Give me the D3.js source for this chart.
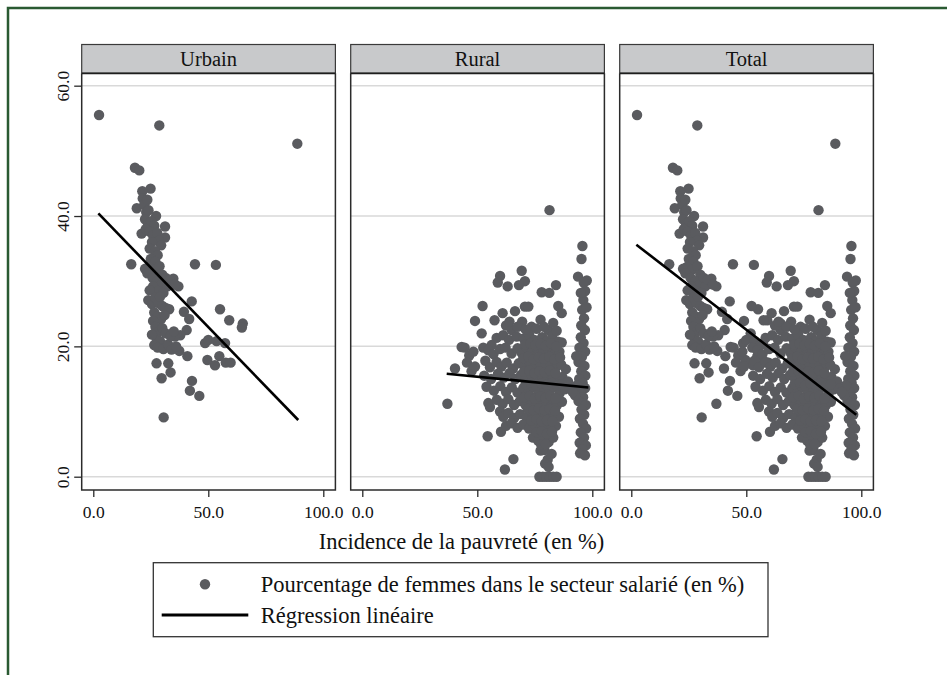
<!DOCTYPE html>
<html><head><meta charset="utf-8">
<script src="https://cdn.jsdelivr.net/npm/d3@7"></script>
<style>body{margin:0;background:#fff}</style>
</head><body>
<svg id="c" width="947" height="675"></svg>
<script>
// ---------------- DATA ----------------
const panels = ["Urbain", "Rural", "Total"];
const yTicks = [0, 20, 40, 60];
const xTicks = [0, 50, 100];
const xTitle = "Incidence de la pauvreté (en %)";
const legendLabels = ["Pourcentage de femmes dans le secteur salarié (en %)", "Régression linéaire"];

// Urban: [poverty incidence, % women in wage sector]
const urbainPoints = [
  [2.5,55.5],[28.7,53.9],[88.7,51.1],[18.1,47.4],[20.0,47.0],[24.9,44.2],[21.3,43.8],[21.5,42.7],
  [18.9,41.2],[27.3,40.0],[31.2,38.4],[21.0,37.3],[31.2,36.7],[16.5,32.6],[44.2,32.6],[53.3,32.5],
  [34.8,30.4],[37.0,29.2],[42.8,26.9],[55.1,25.7],[59.1,24.0],[65.0,23.5],[64.6,22.9],[39.4,25.3],
  [41.7,24.2],[40.6,22.5],[37.8,21.7],[35.5,21.5],[48.6,20.5],[50.0,21.0],[53.6,20.8],[57.3,20.5],
  [49.6,17.9],[52.9,17.1],[54.8,18.5],[57.6,17.5],[59.7,17.5],[40.9,18.5],[37.4,19.3],[27.5,17.4],
  [32.6,17.4],[33.6,16.0],[29.7,15.1],[42.9,14.7],[42.0,13.2],[46.1,12.4],[30.6,9.1],
  [22.2,41.8],[23.0,40.6],[22.5,39.5],[24.0,40.9],[23.5,42.5],
  [23.8,38.8],[25.2,39.2],[26.5,38.5],[22.8,38.0],[24.5,37.6],[26.0,37.0],[27.8,37.4],[28.5,36.2],[25.5,36.0],[29.5,35.5],
  [24.5,35.0],[26.8,34.6],[28.0,34.0],[25.0,33.4],[27.0,33.0],[24.2,32.2],[26.5,31.8],[28.8,32.3],[22.5,31.9],[30.0,31.0],
  [23.5,31.2],[25.8,30.5],[27.8,30.0],[29.5,29.4],[31.5,30.5],[32.2,29.2],[26.0,29.2],[28.2,28.5],[30.5,28.2],[24.5,28.6],
  [23.9,27.1],[25.5,26.5],[27.0,27.5],[28.5,26.6],[30.0,26.2],[31.5,25.9],[33.0,25.7],[26.5,25.2],[28.0,24.6],[29.5,24.2],[31.0,24.8],[26.0,23.9],
  [27.0,23.0],[28.5,22.3],[30.0,22.8],[31.5,22.0],[27.5,21.2],[29.0,20.8],[26.5,20.2],[28.0,19.8],[30.5,19.6],[32.5,20.3],
  [33.5,21.6],[35.0,22.3],[34.0,19.5],[36.0,20.0],[25.5,21.8],[33.3,30.2],[35.5,29.5],[29.0,27.6]
];

const ruralPoints = [
  [37.0,11.2],[40.3,16.6],[44.5,19.8],[46.5,18.6],[45.5,17.5],[47.5,16.2],[49.0,23.9],[52.3,26.2],
  [51.9,22.0],[54.5,6.2],[60.3,6.9],[62.0,1.1],[65.7,2.7],[59.9,30.8],[58.9,29.8],[63.2,29.2],
  [69.3,31.6],[70.7,30.0],[68.1,29.4],[61.0,25.1],[66.4,25.4],[70.7,26.1],[72.2,26.1],[78.0,28.3],
  [81.3,28.2],[84.2,29.4],[85.2,26.2],[86.7,25.1],[81.4,40.9],
  // column near 95
  [95.7,35.4],[95.3,33.4],[93.8,30.7],[97.6,30.1],[96.3,29.8],[96.1,27.1],[95.6,25.6],[96.4,24.3],
  [95.2,23.2],[96.8,22.5],[95.0,21.4],[96.2,20.5],[94.4,19.8],[96.9,19.2],[95.5,18.4],[94.0,17.6],
  [96.6,17.0],[95.2,16.2],[97.0,15.5],[94.3,15.0],[95.8,14.4],[96.9,13.6],[94.8,13.0],[96.0,12.2],
  [94.0,11.6],[97.2,11.0],[95.3,10.3],[96.5,9.5],[94.6,8.9],[96.0,8.1],[97.3,7.4],[95.0,6.8],
  [96.4,6.0],[94.5,5.2],[97.2,4.8],[95.7,4.2],[94.7,3.6],[96.8,3.3],[93.3,14.0],[93.0,18.5],
  [92.5,12.5],[97.5,26.0],[96.9,28.5],[95.0,28.2],
  // main cloud
  [73.6,23.0],[75.8,22.7],[80.9,22.5],[65.0,22.5],[77.5,24.1],[83.0,23.6],[69.5,23.8],[62.5,23.2],
  [64.0,23.8],[57.5,24.0],[67.5,23.0],
  [58.4,21.3],[61.3,21.7],[63.8,21.0],[67.1,21.5],[70.2,21.2],[72.5,21.8],[74.8,21.0],[78.2,21.4],
  [80.0,20.8],[82.6,21.6],[85.2,20.7],[86.7,20.6],[56.2,20.2],
  [43.2,19.9],[48.3,19.2],[52.6,19.8],[54.8,19.4],[57.0,18.8],[59.9,19.6],[62.3,19.8],[64.9,18.9],
  [67.5,19.7],[69.3,19.0],[71.5,19.8],[73.8,19.2],[76.0,19.7],[78.5,18.9],[81.0,19.5],[83.5,18.8],[85.7,19.2],
  [49.0,16.9],[53.5,17.8],[55.5,16.8],[58.4,17.6],[60.5,16.9],[62.8,17.5],[65.5,16.6],[68.0,17.4],
  [70.5,17.0],[72.8,17.6],[75.0,16.8],[77.2,17.5],[79.5,16.9],[81.8,17.4],[84.0,16.7],[86.5,17.2],[88.5,16.5],
  [53.0,15.5],[56.0,15.0],[59.0,15.8],[61.5,15.2],[64.0,15.9],[66.5,15.0],[69.0,15.6],[71.2,15.0],
  [73.5,15.7],[75.8,14.9],[78.0,15.5],[80.2,14.8],[82.5,15.6],[84.8,14.9],[87.0,15.3],[89.5,14.6],
  [54.0,13.8],[57.2,13.2],[60.0,13.9],[62.5,13.0],[65.0,13.7],[67.5,12.9],[70.0,13.6],[72.3,13.0],
  [74.5,13.7],[76.8,12.9],[79.0,13.6],[81.3,13.0],[83.5,13.7],[85.8,12.8],[88.0,13.4],[90.3,13.5],[91.5,13.0],
  [54.8,11.3],[55.5,10.7],[58.5,11.8],[61.0,11.2],[63.5,11.9],[66.0,11.0],[68.5,11.6],[71.0,11.0],
  [73.3,11.8],[75.5,11.0],[77.8,11.7],[80.0,11.0],[82.3,11.6],[84.5,10.9],[86.8,11.5],
  [59.9,10.0],[61.3,9.2],[63.5,9.8],[66.0,9.0],[68.6,9.6],[71.5,9.1],[74.0,9.8],[76.3,9.0],
  [78.6,9.7],[81.0,9.0],[83.3,9.6],[85.5,9.2],
  [62.5,7.8],[64.9,8.2],[67.5,7.5],[70.0,8.0],[72.5,7.4],[75.0,8.0],[77.3,7.3],[79.6,7.9],[82.0,7.2],[84.2,7.8],
  [74.2,6.0],[76.5,5.5],[78.8,6.2],[81.0,5.3],[83.0,6.0],
  [77.5,4.0],[79.2,4.1],[80.6,2.6],[82.3,3.5],
  [77.0,0.0],[78.5,0.0],[80.0,0.0],[81.5,0.0],[83.0,0.0],[84.5,0.0],
  // denser core
  [71.0,22.6],[79.0,23.0],[84.5,22.4],
  [70.8,20.3],[73.0,20.5],[75.3,20.2],[77.6,20.4],[79.8,20.1],[82.0,20.5],[84.3,20.0],
  [70.0,18.2],[72.2,18.4],[74.5,18.0],[76.8,18.3],[79.0,18.1],[81.3,18.4],[83.6,18.0],[86.0,18.3],
  [70.3,16.1],[72.6,16.3],[74.8,15.9],[77.0,16.2],[79.3,16.0],[81.6,16.3],[83.9,15.9],
  [71.0,14.2],[73.3,14.4],[75.6,14.0],[77.9,14.3],[80.1,14.1],[82.4,14.4],[84.7,14.0],[86.8,14.2],
  [70.5,12.2],[72.8,12.4],[75.0,12.0],[77.3,12.3],[79.6,12.1],[81.8,12.4],[84.0,12.0],
  [72.0,10.4],[74.5,10.2],[76.8,10.5],[79.2,10.2],[81.5,10.4],[83.8,10.1],
  [73.5,8.6],[75.8,8.8],[78.0,8.5],[80.3,8.7],[82.6,8.5],
  [75.8,6.8],[78.0,7.0],[80.3,6.6],[82.5,6.9],
  [77.8,4.9],[79.8,5.0],[79.5,2.0],[81.0,1.5]
];

// Fitted regression lines (endpoints)
const regUrbain = [[2.2, 40.4], [89.1, 8.7]];
const regRural  = [[36.7, 15.8], [98.3, 13.7]];
const regTotal  = [[2.2, 35.6], [97.8, 9.5]];

// ---------------- DRAW ----------------
const svg = d3.select("#c");
const FONT = "'Liberation Serif','Times New Roman',serif";
const dotColor = "#5a5b5f";

// outer frame
svg.append("rect").attr("x", 8).attr("y", 8).attr("width", 1200).attr("height", 1200)
  .attr("fill", "none").attr("stroke", "#2a5a32").attr("stroke-width", 2.5);

const panelW = 253.7, gap = 15.3, left0 = 81.7;
const plotTop = 73.3, plotBottom = 490, headerTop = 44.5;
const y = d3.scaleLinear().domain([-2.04, 61.9]).range([plotBottom, plotTop]);

const dataFor = {
  "Urbain": {pts: urbainPoints, reg: regUrbain},
  "Rural": {pts: ruralPoints, reg: regRural},
  "Total": {pts: urbainPoints.concat(ruralPoints), reg: regTotal}
};

panels.forEach((name, i) => {
  const L = left0 + i * (panelW + gap);
  const x = d3.scaleLinear().domain([-5.04, 105.26]).range([L, L + panelW]);
  const g = svg.append("g");

  // gridlines
  g.selectAll("line.grid").data(yTicks).enter().append("line")
    .attr("x1", L).attr("x2", L + panelW)
    .attr("y1", d => y(d)).attr("y2", d => y(d))
    .attr("stroke", "#d9d9d9").attr("stroke-width", 1.5);

  // points
  const clip = "clip" + i;
  svg.append("clipPath").attr("id", clip).append("rect")
    .attr("x", L).attr("y", plotTop).attr("width", panelW).attr("height", plotBottom - plotTop);
  g.append("g").attr("clip-path", `url(#${clip})`)
    .selectAll("circle").data(dataFor[name].pts).enter().append("circle")
    .attr("cx", d => x(d[0])).attr("cy", d => y(d[1])).attr("r", 5.2)
    .attr("fill", dotColor);

  // regression line
  g.append("path").datum(dataFor[name].reg)
    .attr("d", d3.line().x(d => x(d[0])).y(d => y(d[1])))
    .attr("stroke", "#000").attr("stroke-width", 2.6).attr("fill", "none");

  // frame (left, right, bottom)
  g.append("path")
    .attr("d", `M${L},${plotTop}V${plotBottom}H${L + panelW}V${plotTop}`)
    .attr("fill", "none").attr("stroke", "#2b2b2b").attr("stroke-width", 1.5);

  // header strip
  g.append("rect").attr("x", L).attr("y", headerTop).attr("width", panelW).attr("height", plotTop - headerTop)
    .attr("fill", "#c8c9cb").attr("stroke", "#3a3a3a").attr("stroke-width", 1.2);
  g.append("line").attr("x1", L).attr("x2", L + panelW).attr("y1", plotTop).attr("y2", plotTop)
    .attr("stroke", "#1e1e1e").attr("stroke-width", 1.8);
  g.append("text").attr("x", L + panelW / 2).attr("y", 65.5).attr("text-anchor", "middle")
    .attr("font-family", FONT).attr("font-size", 20.5).attr("fill", "#111").text(name);

  // x axis
  const xa = g.append("g").attr("transform", `translate(0,${plotBottom})`)
    .call(d3.axisBottom(x).tickValues(xTicks).tickFormat(d3.format(".1f")).tickSize(7).tickPadding(3));
  xa.select(".domain").remove();
  xa.selectAll("line").attr("stroke", "#2b2b2b").attr("stroke-width", 1.3);
  xa.selectAll("text").attr("font-family", FONT).attr("font-size", 17.5).attr("fill", "#111")
    .attr("dy", null).attr("y", 28);

  // y axis only on first panel
  if (i === 0) {
    const ya = g.append("g").attr("transform", `translate(${L},0)`)
      .call(d3.axisLeft(y).tickValues(yTicks).tickFormat(d3.format(".1f")).tickSize(7.5));
    ya.select(".domain").remove();
    ya.selectAll("line").attr("stroke", "#2b2b2b").attr("stroke-width", 1.3);
    ya.selectAll("text").attr("font-family", FONT).attr("font-size", 17.5).attr("fill", "#111")
      .attr("x", null).attr("dy", null).attr("text-anchor", "middle")
      .attr("transform", "translate(-12.5,0) rotate(-90)");
  }
});

// x title
svg.append("text").attr("x", 461.5).attr("y", 549).attr("text-anchor", "middle")
  .attr("font-family", FONT).attr("font-size", 22.5).attr("fill", "#111").text(xTitle);

// legend
const lg = svg.append("g");
lg.append("rect").attr("x", 153.3).attr("y", 562.7).attr("width", 614.7).attr("height", 74)
  .attr("fill", "#fff").attr("stroke", "#333").attr("stroke-width", 1.3);
lg.append("circle").attr("cx", 205).attr("cy", 584.3).attr("r", 5.2).attr("fill", dotColor);
lg.append("line").attr("x1", 161.7).attr("x2", 248.3).attr("y1", 615).attr("y2", 615)
  .attr("stroke", "#000").attr("stroke-width", 2.8);
lg.selectAll("text").data(legendLabels).enter().append("text")
  .attr("x", 260.7).attr("y", (d, i) => i === 0 ? 591.7 : 623.3)
  .attr("font-family", FONT).attr("font-size", 22.5).attr("fill", "#111").text(d => d);
</script>
</body></html>
